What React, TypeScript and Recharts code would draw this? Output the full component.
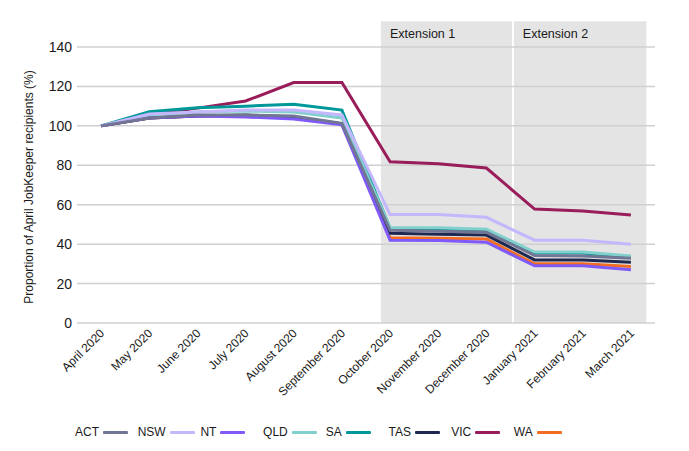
import React from 'react';
import {
    LineChart, Line, XAxis, YAxis, ReferenceArea, ReferenceLine,
} from 'recharts';

const months = [
    'April 2020', 'May 2020', 'June 2020', 'July 2020', 'August 2020', 'September 2020',
    'October 2020', 'November 2020', 'December 2020', 'January 2021', 'February 2021', 'March 2021',
];

const act = [100, 104, 105.5, 105.5, 105, 101.3, 47, 46.5, 46, 34.3, 34, 32.8];
const nsw = [100, 106, 107, 108, 108, 105.5, 55, 55, 53.6, 42, 42, 40];
const nt = [100, 104, 105, 104.5, 103.5, 100.5, 42, 41.8, 41, 29, 29, 27];
const qld = [100, 105.5, 107, 107.5, 107, 104, 48.5, 48.3, 47.5, 36, 36, 34];
const sa = [100, 107.2, 109.2, 110, 111, 108, 48, 47.8, 47, 35.5, 35.5, 33.5];
const tas = [100, 104, 105, 105.5, 104.5, 101, 45.5, 45, 44.6, 32, 32, 30.8];
const vic = [100, 105.5, 109, 112.6, 122, 122, 81.8, 80.8, 78.6, 57.8, 56.8, 54.8];
const wa = [100, 104, 105, 105, 104, 101, 43.3, 43, 42.6, 30, 30, 28.6];

const yTicks = [0, 20, 40, 60, 80, 100, 120, 140];

const series = [
    { key: 'ACT', values: act, color: '#707693' },
    { key: 'NSW', values: nsw, color: '#c4b7fd' },
    { key: 'NT', values: nt, color: '#7f5af8' },
    { key: 'QLD', values: qld, color: '#82d0cd' },
    { key: 'SA', values: sa, color: '#009899' },
    { key: 'TAS', values: tas, color: '#1f2850' },
    { key: 'VIC', values: vic, color: '#991c5b' },
    { key: 'WA', values: wa, color: '#f26d22' },
];

// extension periods, in category index units
const extensions = [
    { label: 'Extension 1', from: 5.81, to: 8.53 },
    { label: 'Extension 2', from: 8.57, to: 11.32 },
];

const FONT = '"Liberation Sans", Arial, sans-serif';

const data = months.map((m, i) => {
    const row: Record<string, any> = { idx: i, month: m };
    series.forEach((s) => { row[s.key] = s.values[i]; });
    return row;
});

function MonthTick({ x, y, payload }: any) {
    const tx = x + 4;
    const ty = y + 11;
    return (
        <text
            x={tx}
            y={ty}
            transform={`rotate(-45, ${tx}, ${ty})`}
            textAnchor="end"
            fontSize={12}
            fontFamily={FONT}
            fill="#1a1a1a"
        >
            {months[payload.value]}
        </text>
    );
}

function ExtLabel({ viewBox, text }: any) {
    return (
        <text x={viewBox.x + 9} y={viewBox.y + 17} fontSize={12.5} fontFamily={FONT} fill="#1a1a1a">
            {text}
        </text>
    );
}

function YLabel({ viewBox }: any) {
    const cx = 29;
    const cy = viewBox.y + viewBox.height / 2 + 2;
    return (
        <text
            x={cx}
            y={cy}
            transform={`rotate(-90, ${cx}, ${cy})`}
            textAnchor="middle"
            dominantBaseline="central"
            fontSize={12}
            fontFamily={FONT}
            fill="#1a1a1a"
        >
            Proportion of April JobKeeper recipients (%)
        </text>
    );
}

export default function App() {
    return (
        <div style={{ position: 'absolute', left: 0, top: 0, width: 689, height: 451, background: '#fff', fontFamily: FONT }}>
            <LineChart width={689} height={451} data={data} margin={{ top: 47, right: 34, left: 0, bottom: 0 }}>
                <XAxis
                    dataKey="idx"
                    type="number"
                    domain={[-0.5, 11.5]}
                    ticks={months.map((_, i) => i)}
                    interval={0}
                    tick={<MonthTick />}
                    tickLine={false}
                    tickSize={0}
                    tickMargin={0}
                    axisLine={{ stroke: '#d0d0d0', strokeWidth: 1.5 }}
                    height={128}
                    allowDataOverflow
                />
                <YAxis
                    domain={[0, 140]}
                    ticks={yTicks}
                    interval={0}
                    width={77}
                    axisLine={false}
                    tickLine={false}
                    tickSize={0}
                    tickMargin={5}
                    tick={{ fontSize: 14, fill: '#1a1a1a', fontFamily: FONT }}
                    label={<YLabel />}
                />
                {extensions.map((e) => (
                    <ReferenceArea
                        key={e.label}
                        x1={e.from}
                        x2={e.to}
                        y1={0}
                        y2={153}
                        fill="#e4e4e4"
                        fillOpacity={1}
                        stroke="none"
                        ifOverflow="visible"
                        label={<ExtLabel text={e.label} />}
                    />
                ))}
                {yTicks.filter((t) => t > 0).map((t) => (
                    <ReferenceLine key={t} y={t} stroke="#d0d0d0" strokeWidth={1.5} />
                ))}
                {[...series].reverse().map((s) => (
                    <Line
                        key={s.key}
                        type="linear"
                        dataKey={s.key}
                        stroke={s.color}
                        strokeWidth={3}
                        dot={false}
                        activeDot={false}
                        isAnimationActive={false}
                    />
                ))}
            </LineChart>
            <div
                style={{
                    position: 'absolute', left: 75, top: 423, display: 'flex', alignItems: 'center',
                    fontSize: 12, color: '#1a1a1a', lineHeight: '18px',
                }}
            >
                {series.map((s) => (
                    <div key={s.key} style={{ display: 'flex', alignItems: 'center', width: 62.7 }}>
                        <span>{s.key}</span>
                        <span style={{ display: 'inline-block', width: 25, height: 3, marginLeft: 4, background: s.color, borderRadius: 1 }} />
                    </div>
                ))}
            </div>
        </div>
    );
}
